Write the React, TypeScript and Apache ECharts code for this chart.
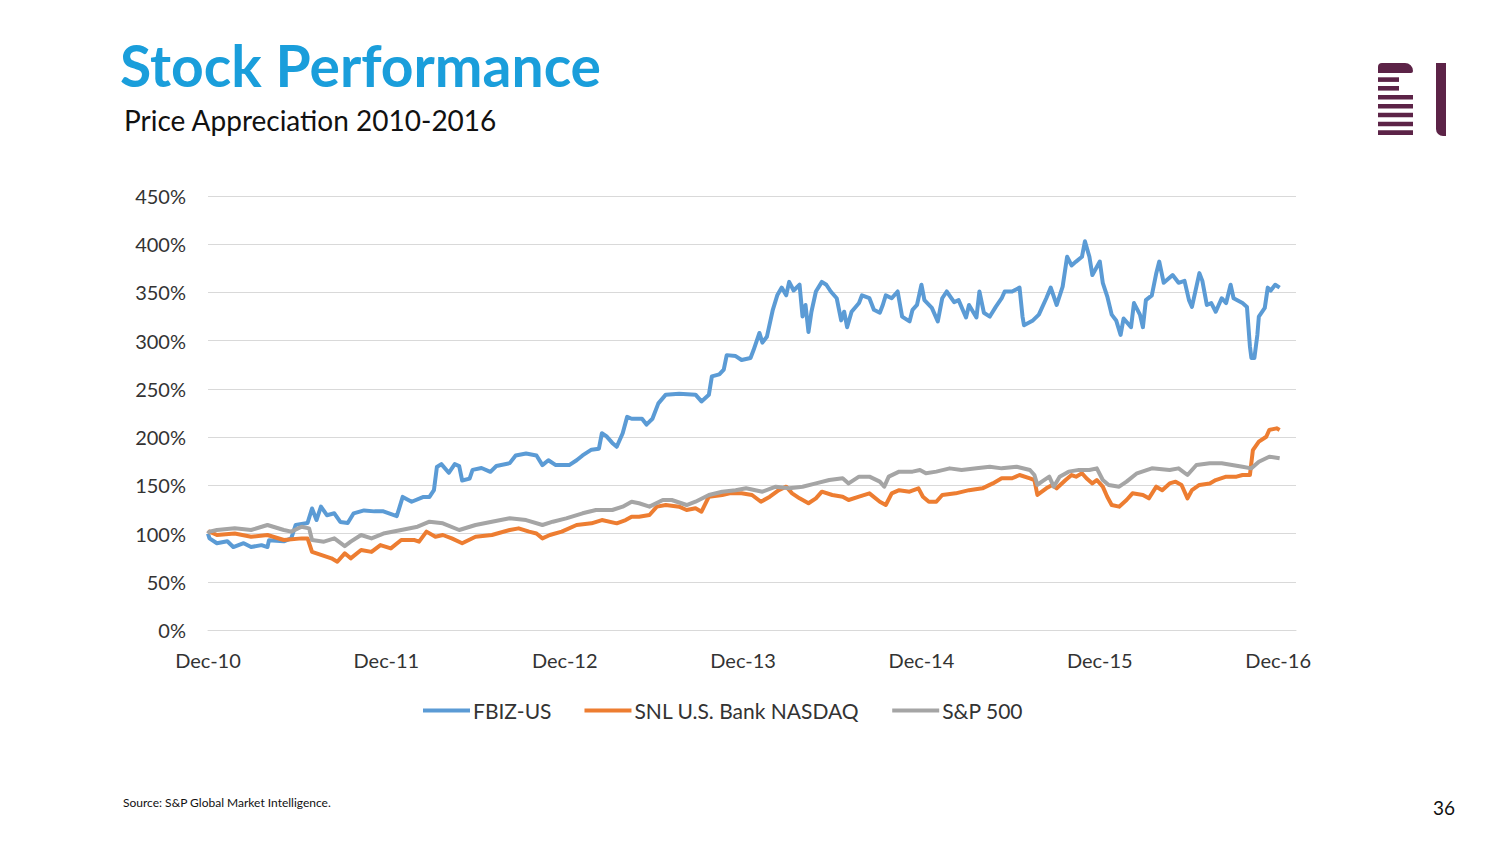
import React, { useEffect, useRef } from "react";
import * as echarts from "echarts";

// x values are months since Dec-10
const xTickLabels = ["Dec-10", "Dec-11", "Dec-12", "Dec-13", "Dec-14", "Dec-15", "Dec-16"];
const seriesNames = ["FBIZ-US", "SNL U.S. Bank NASDAQ", "S&P 500"];

const fbizMonth = [
  0, 0.1, 0.6, 1.3, 1.7, 2.4, 2.9, 3.6, 4.0, 4.1,
  5.1, 5.6, 5.9, 6.7, 7.0, 7.3, 7.6, 8.0, 8.5, 8.9,
  9.4, 9.8, 10.5, 11.2, 11.8, 12.7, 13.1, 13.7, 14.5, 14.9,
  15.2, 15.4, 15.7, 16.2, 16.6, 16.9, 17.1, 17.6, 17.8, 18.4,
  19.0, 19.4, 20.3, 20.7, 21.4, 22.1, 22.5, 22.9, 23.4, 24.3,
  24.8, 25.2, 25.8, 26.3, 26.5, 26.8, 27.2, 27.5, 27.9, 28.2,
  28.5, 29.2, 29.5, 29.9, 30.3, 30.8, 31.7, 32.8, 33.2, 33.7,
  33.9, 34.4, 34.7, 34.9, 35.5, 35.9, 36.5, 36.7, 36.9, 37.1,
  37.3, 37.6, 38.0, 38.3, 38.6, 38.9, 39.1, 39.4, 39.8, 40.0,
  40.2, 40.4, 40.6, 40.9, 41.3, 41.6, 41.9, 42.3, 42.6, 42.8,
  43.0, 43.3, 43.8, 44.0, 44.5, 44.8, 45.2, 45.4, 45.6, 46.0,
  46.4, 46.7, 47.2, 47.4, 47.7, 48.0, 48.2, 48.7, 49.1, 49.4,
  49.7, 50.2, 50.5, 51.0, 51.2, 51.7, 51.9, 52.2, 52.6, 53.0,
  53.4, 53.6, 54.1, 54.6, 54.8, 54.9, 55.5, 55.9, 56.4, 56.7,
  57.1, 57.5, 57.8, 58.1, 58.4, 58.8, 59.0, 59.3, 59.5, 60.0,
  60.2, 60.5, 60.8, 61.1, 61.4, 61.6, 62.1, 62.3, 62.7, 62.9,
  63.1, 63.5, 63.8, 64.0, 64.3, 64.9, 65.3, 65.7, 66.0, 66.2,
  66.7, 66.9, 67.2, 67.5, 67.8, 68.2, 68.5, 68.8, 69.0, 69.6,
  69.9, 70.1, 70.2, 70.4, 70.6, 70.7, 71.1, 71.3, 71.5, 71.8,
  72.1,
];
const fbizValue = [
  100, 95, 90, 92, 86, 90, 86, 88, 86, 93,
  92, 95, 109, 111, 126, 114, 128, 119, 121, 112,
  111, 121, 124, 123, 123, 118, 138, 133, 138, 138,
  145, 169, 172, 163, 172, 170, 155, 157, 166, 168,
  164, 170, 173, 181, 183, 181, 171, 176, 171, 171,
  176, 181, 187, 188, 204, 201, 194, 190, 204, 221,
  219, 219, 213, 219, 235, 244, 245, 244, 237, 244,
  263, 265, 270, 285, 284, 280, 282, 290, 299, 308,
  298, 304, 332, 347, 355, 347, 361, 352, 358, 325,
  337, 309, 330, 351, 361, 358, 351, 344, 321, 330,
  314, 330, 339, 347, 344, 332, 329, 337, 347, 344,
  351, 325, 320, 332, 337, 358, 342, 334, 320, 344,
  351, 340, 342, 324, 337, 324, 351, 329, 325, 335,
  344, 351, 351, 355, 325, 316, 321, 327, 344, 355,
  337, 356, 387, 378, 382, 387, 403, 387, 368, 382,
  360, 346, 327, 321, 306, 323, 314, 339, 327, 314,
  342, 347, 370, 382, 360, 368, 360, 362, 342, 335,
  370, 362, 337, 339, 330, 344, 339, 358, 344, 339,
  335, 294, 282, 282, 306, 325, 334, 355, 352, 358,
  355,
];

const snlMonth = [
  0, 0.1, 0.6, 1.8, 2.9, 4.0, 5.1, 6.3, 6.7, 7.0,
  7.6, 8.3, 8.7, 9.2, 9.6, 10.3, 11.0, 11.6, 12.3, 13.0,
  13.5, 13.9, 14.2, 14.7, 15.3, 15.8, 16.4, 17.1, 18.0, 19.1,
  20.3, 20.9, 21.6, 22.1, 22.5, 23.0, 23.8, 24.8, 25.8, 26.5,
  27.5, 28.1, 28.5, 29.0, 29.7, 30.2, 30.8, 31.7, 32.2, 32.8,
  33.2, 33.7, 34.6, 35.1, 35.9, 36.6, 37.2, 37.8, 38.4, 38.9,
  39.3, 39.8, 40.4, 40.9, 41.3, 42.0, 42.7, 43.1, 43.8, 44.5,
  45.2, 45.6, 46.0, 46.5, 47.2, 47.8, 48.1, 48.5, 49.0, 49.4,
  50.3, 51.2, 52.1, 52.8, 53.4, 54.1, 54.6, 55.3, 55.6, 55.8,
  56.4, 56.8, 57.1, 57.7, 58.1, 58.4, 58.8, 59.1, 59.5, 59.8,
  60.2, 60.5, 60.8, 61.3, 61.8, 62.2, 62.9, 63.3, 63.8, 64.2,
  64.7, 65.1, 65.5, 65.9, 66.2, 66.7, 67.4, 67.8, 68.5, 69.2,
  69.6, 70.1, 70.3, 70.7, 71.2, 71.4, 71.9, 72.1,
];
const snlValue = [
  100, 102, 98.5, 100, 96.7, 98.5, 93.3, 95, 95, 81,
  77.8, 74.3, 70.8, 79.5, 74.3, 83, 81, 88, 84.6, 93.3,
  93.3, 93.3, 91.6, 102, 96.7, 98.5, 95, 90, 96.7, 98.5,
  103.7, 105.4, 102, 100, 95, 98.5, 102, 108.9, 110.6, 114,
  110.6, 114, 117.5, 117.5, 119.2, 127.9, 129.6, 127.9, 124.4, 126.2,
  122.7, 138.2, 140, 141.7, 141.7, 140, 133, 138.2, 145, 148.6,
  141.7, 136.5, 131.4, 136.5, 143.4, 140, 138.2, 134.8, 138.2, 141.7,
  133, 129.6, 141.7, 145, 143.4, 146.9, 138.2, 133, 133, 140,
  141.7, 145, 146.9, 152, 157.3, 157.3, 160.7, 157.3, 155.5, 140,
  146.9, 150.4, 146.9, 155.5, 160.7, 159, 162.5, 157.3, 152, 155.5,
  148.6, 138.2, 129.6, 127.9, 134.8, 141.7, 140, 136.5, 148.6, 145,
  152, 153.8, 150.4, 136.5, 145, 150.4, 152, 155.5, 159, 159,
  160.7, 160.7, 186.6, 195.3, 200.4, 207.4, 209.1, 207.4,
];

const spMonth = [
  0, 0.1, 0.6, 1.8, 2.9, 4.0, 5.1, 5.6, 6.3, 6.8,
  7.0, 7.8, 8.5, 9.2, 9.6, 10.3, 11.0, 11.8, 13.0, 14.1,
  14.9, 15.8, 16.9, 18.0, 19.1, 20.3, 21.4, 22.5, 23.2, 24.1,
  25.2, 26.1, 27.2, 27.9, 28.5, 29.0, 29.7, 30.6, 31.2, 32.2,
  32.8, 33.7, 34.6, 35.5, 36.2, 37.3, 38.2, 39.1, 40.0, 40.9,
  41.8, 42.7, 43.1, 43.8, 44.5, 45.2, 45.5, 45.8, 46.5, 47.4,
  47.9, 48.3, 49.0, 49.9, 50.7, 51.7, 52.6, 53.4, 54.4, 55.3,
  55.6, 55.8, 56.1, 56.6, 56.9, 57.3, 57.9, 58.6, 59.3, 59.8,
  60.2, 60.6, 61.3, 61.8, 62.5, 63.5, 64.7, 65.3, 65.9, 66.5,
  67.4, 68.2, 68.9, 69.6, 70.2, 70.7, 71.4, 72.1,
];
const spValue = [
  100, 102, 103.7, 105.4, 103.7, 108.9, 103.7, 102, 107.1, 105.4,
  93.3, 91.6, 95, 87, 91.6, 98.5, 95, 100, 103.7, 107.1,
  112.3, 110.6, 103.7, 108.9, 112.3, 115.8, 114, 108.9, 112.3, 115.8,
  121, 124.4, 124.4, 127.9, 133, 131.4, 127.9, 134.8, 134.8, 129.6,
  133, 140, 143.4, 145, 146.9, 143.4, 148.6, 146.9, 148.6, 152,
  155.5, 157.3, 152, 159, 159, 153.8, 148.6, 159, 164.2, 164.2,
  165.9, 162.5, 164.2, 167.6, 165.9, 167.6, 169.3, 167.6, 169.3, 165.9,
  160.7, 150.4, 153.8, 159, 148.6, 159, 164.2, 166, 165.9, 167.6,
  155.5, 150.4, 148.6, 153.8, 162.5, 167.6, 165.9, 167.6, 160.7, 171.1,
  172.8, 172.8, 171.1, 169.3, 167.6, 174.5, 179.7, 178,
];

const colors = ["#5B9BD5", "#ED7D31", "#A5A5A5"];
const FONT = "Lato, 'Noto Sans', sans-serif";
const LOGO = "#5C2347";

const pair = (xs: number[], ys: number[]) => xs.map((x, i) => [x, ys[i]]);

export default function App() {
  const ref = useRef<HTMLDivElement>(null);

  useEffect(() => {
    if (!ref.current) return;
    const chart = echarts.init(ref.current, null, { renderer: "svg" });
    const bars = [77.3, 86, 95, 104, 112.7, 121.7, 130.3];
    chart.setOption({
      animation: false,
      backgroundColor: "#ffffff",
      textStyle: { fontFamily: FONT },
      grid: { left: 208, right: 208, top: 196, bottom: 216, containLabel: false },
      legend: {
        left: 423,
        top: 700,
        padding: 0,
        icon: "rect",
        itemWidth: 47,
        itemHeight: 4,
        itemGap: 33,
        textStyle: { fontFamily: FONT, fontSize: 21, color: "#333333", padding: [0, 0, 0, -2] },
        data: seriesNames,
      },
      xAxis: {
        type: "value",
        min: 0,
        max: 73.2,
        interval: 12,
        axisLine: { show: true, lineStyle: { color: "#D9D9D9", width: 1 } },
        axisTick: { show: false },
        splitLine: { show: false },
        axisLabel: {
          showMaxLabel: false,
          margin: 20,
          fontFamily: FONT,
          fontSize: 20,
          color: "#333333",
          formatter: (v: number) => (v % 12 === 0 ? xTickLabels[v / 12] : ""),
        },
      },
      yAxis: {
        type: "value",
        min: 0,
        max: 450,
        interval: 50,
        axisLine: { show: false },
        axisTick: { show: false },
        splitLine: { show: true, lineStyle: { color: "#D9D9D9", width: 1 } },
        axisLabel: { margin: 22, fontFamily: FONT, fontSize: 20, color: "#333333", formatter: "{value}%" },
      },
      series: [
        { name: seriesNames[0], data: pair(fbizMonth, fbizValue) },
        { name: seriesNames[1], data: pair(snlMonth, snlValue) },
        { name: seriesNames[2], data: pair(spMonth, spValue) },
      ].map((s, i) => ({
        ...s,
        type: "line",
        showSymbol: false,
        symbol: "none",
        color: colors[i],
        lineStyle: { color: colors[i], width: 4, join: "round" },
      })),
      graphic: [
        {
          type: "text",
          left: 120,
          top: 36,
          style: { text: "Stock Performance", fill: "#1A9EDB", font: `bold 57px ${FONT}` },
        },
        {
          type: "text",
          left: 124,
          top: 106,
          style: { text: "Price Appreciation 2010-2016", fill: "#111111", font: `28px ${FONT}` },
        },
        {
          type: "text",
          left: 123,
          top: 796,
          style: { text: "Source: S&P Global Market Intelligence.", fill: "#111111", font: `12px ${FONT}` },
        },
        {
          type: "text",
          left: 1433,
          top: 798,
          style: { text: "36", fill: "#111111", font: `19px ${FONT}` },
        },
        {
          type: "rect",
          shape: { x: 1378, y: 63, width: 35, height: 10, r: [4, 8, 2, 0] },
          style: { fill: LOGO },
        },
        ...bars.map((y, i) => ({
          type: "rect",
          shape: { x: 1378, y, width: i < 2 ? 21 : 35, height: 4.6 },
          style: { fill: LOGO },
        })),
        {
          type: "rect",
          shape: { x: 1436, y: 63, width: 10, height: 73, r: [0, 0, 0, 7] },
          style: { fill: LOGO },
        },
      ],
    });
    return () => chart.dispose();
  }, []);

  return (
    <div
      ref={ref}
      style={{ position: "fixed", left: 0, top: 0, width: 1504, height: 846, background: "#ffffff" }}
    />
  );
}
